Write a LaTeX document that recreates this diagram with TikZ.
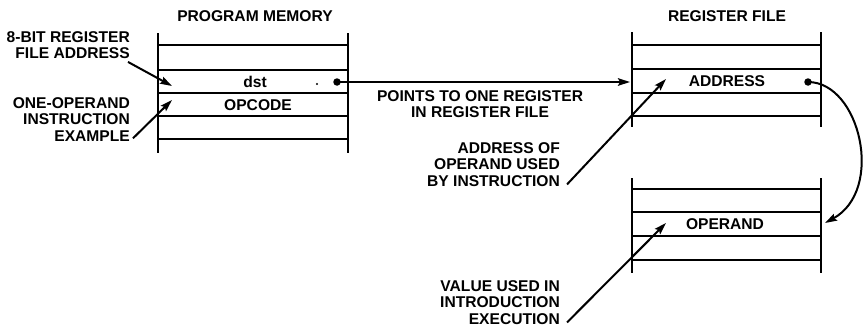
\documentclass[tikz,border=0pt]{standalone}
\usepackage{fontspec}
\setmainfont{Liberation Sans}
\usepackage{tikz}
\usetikzlibrary{arrows.meta, positioning, calc}

\begin{document}
\begin{tikzpicture}[x=1pt, y=-1pt,
    wall/.style={line width=2.6pt},
    pointer/.style={line width=2pt, -{Stealth[length=12pt, width=7.5pt, inset=2pt]}},
    label/.style={font=\fontsize{15.6}{16.5}\selectfont\bfseries, inner sep=0pt, align=right},
    cell/.style={font=\fontsize{15.6}{16.5}\selectfont\bfseries, inner sep=0pt},
    ptrdot/.style={circle, fill, inner sep=0pt, minimum size=7.5pt}]
  \useasboundingbox (0,0) rectangle (865,332);

  % Titles
  \node[cell, anchor=north] (pmtitle) at (255,10) {PROGRAM MEMORY};
  \node[cell, anchor=north] (rftitle) at (727,10) {REGISTER FILE};

  % Program memory
  \draw[wall] (158,33) -- (158,153) (348,33) -- (348,153);
  \foreach \y in {45,70,93,116,139}
    \draw[wall] (158,\y) -- (348,\y);
  \node[cell] (dst) at (255,82) {dst};
  \node[cell] (opcode) at (258,105) {OPCODE};
  \fill (317,84) circle (1.1pt);
  \node[ptrdot] (dstdot) at (337,82) {};

  % Register file
  \draw[wall] (632,32) -- (632,127) (821,32) -- (821,127);
  \foreach \y in {45,69,93,116}
    \draw[wall] (632,\y) -- (821,\y);
  \node[cell] (address) at (727,81) {ADDRESS};
  \node[ptrdot] (addrdot) at (808,82) {};
  \coordinate (rfin) at (630,82);

  \draw[wall] (632,178) -- (632,273) (821,178) -- (821,273);
  \foreach \y in {189,212,236,260}
    \draw[wall] (632,\y) -- (821,\y);
  \node[cell] (operand) at (725,224) {OPERAND};
  \coordinate (opin) at (825,223);

  % Labels
  \node[label, anchor=north east] (lbladdr) at (130,31) {8-BIT REGISTER\\FILE ADDRESS};
  \node[label, anchor=north east] (lblinstr) at (130,97) {ONE-OPERAND\\INSTRUCTION\\EXAMPLE};
  \node[label, align=center, anchor=north] (lblpoints) at (480,90) {POINTS TO ONE REGISTER\\IN REGISTER FILE};
  \node[label, anchor=north east] (lblopaddr) at (560,142) {ADDRESS OF\\OPERAND USED\\BY INSTRUCTION};
  \node[label, anchor=north east] (lblvalue) at (560,280) {VALUE USED IN\\INTRODUCTION\\EXECUTION};

  % Arrows
  \coordinate (tipdst) at (172,86);
  \coordinate (tipop) at (172,100);
  \coordinate (tipaddr) at (666,79);
  \coordinate (tipval) at (666,223);
  \draw[pointer] ([xshift=-2pt, yshift=-3pt]lbladdr.south east) -- (tipdst);
  \draw[pointer] ([xshift=3pt, yshift=3pt]lblinstr.south east) -- (tipop);
  \draw[pointer] ([xshift=7pt, yshift=2pt]lblopaddr.south east) -- (tipaddr);
  \draw[pointer] ([xshift=7pt, yshift=2pt]lblvalue.south east) -- (tipval);
  \draw[pointer] (dstdot.center) -- (rfin);
  \draw[pointer] (addrdot.center) .. controls (860,82) and (885,190) .. (opin);
\end{tikzpicture}
\end{document}
